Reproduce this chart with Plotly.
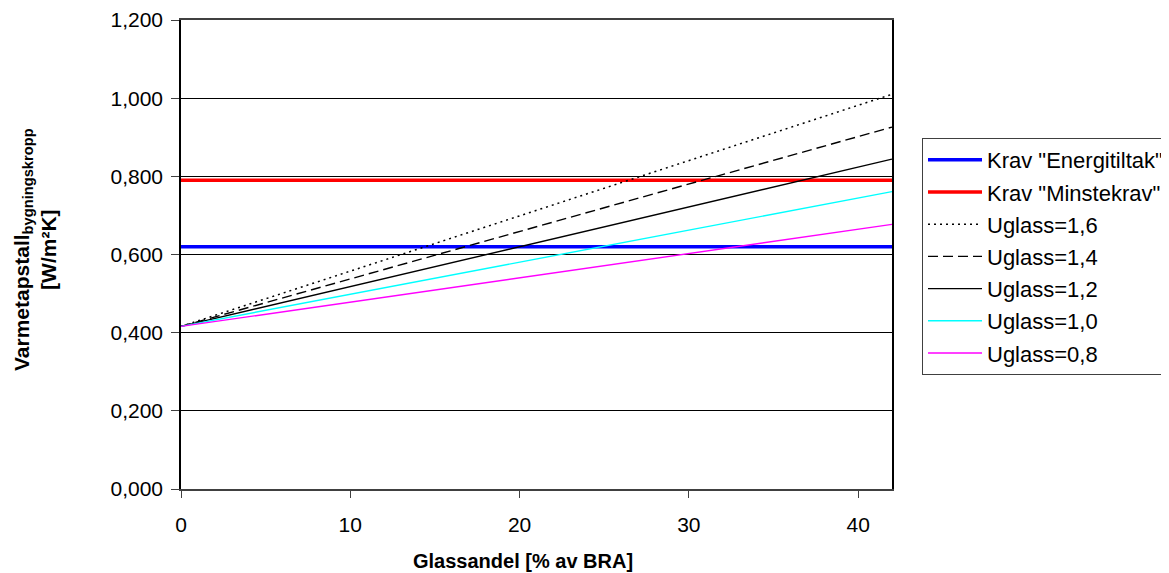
import plotly.graph_objects as go

# x-range endpoints (% glass of BRA)
x_vals = [0, 42]

# requirement levels (W/m2K)
krav_energitiltak = [0.620, 0.620]
krav_minstekrav = [0.790, 0.790]

# heat loss number per glass U-value
u16 = [0.416, 1.010]
u14 = [0.416, 0.926]
u12 = [0.416, 0.844]
u10 = [0.416, 0.761]
u08 = [0.416, 0.677]

y_ticks = [0.0, 0.2, 0.4, 0.6, 0.8, 1.0, 1.2]
y_ticktext = ["0,000", "0,200", "0,400", "0,600", "0,800", "1,000", "1,200"]
x_ticks = [0, 10, 20, 30, 40]

font_family = "Liberation Sans, Arial, sans-serif"

series = [
    ('Krav "Energitiltak"', krav_energitiltak, dict(color="#0000FF", width=3.5)),
    ('Krav "Minstekrav"', krav_minstekrav, dict(color="#FF0000", width=3.5)),
    ("Uglass=1,6", u16, dict(color="#000000", width=1.5, dash="2px,4px")),
    ("Uglass=1,4", u14, dict(color="#000000", width=1.4, dash="10px,5px")),
    ("Uglass=1,2", u12, dict(color="#000000", width=1.4)),
    ("Uglass=1,0", u10, dict(color="#00FFFF", width=1.4)),
    ("Uglass=0,8", u08, dict(color="#FF00FF", width=1.4)),
]

# page has an 8px body margin; figure coords = page coords - 8
W, H = 1200, 575
L, T = 173, 12
PR, PB = 884, 481  # plot right / bottom in figure coords

fig = go.Figure()
for i, (name, ys, line) in enumerate(series):
    fig.add_trace(go.Scatter(x=x_vals, y=ys, mode="lines", name=name,
                             line=line, legendgroup=f"g{i}"))

fig.update_layout(
    width=W, height=H,
    margin=dict(l=L, r=W - PR, t=T, b=H - PB, autoexpand=False),
    paper_bgcolor="white", plot_bgcolor="white",
    font=dict(family=font_family, size=21, color="black"),
    showlegend=True,
    legend=dict(
        x=(914 - L) / (PR - L), y=(PB - 130) / (PB - T),
        xanchor="left", yanchor="top",
        bordercolor="#404040", borderwidth=1,
        font=dict(size=22, family=font_family),
        tracegroupgap=0.6, itemwidth=54,
    ),
    xaxis=dict(
        range=[0, 42], tickvals=x_ticks, ticktext=[str(v) for v in x_ticks],
        showgrid=False, zeroline=False, automargin=False,
        showline=True, linecolor="#404040", linewidth=1.5, mirror=True,
        ticks="outside", ticklen=7, tickcolor="#404040",
        ticklabelstandoff=9,
        tickfont=dict(size=21),
    ),
    yaxis=dict(
        range=[0, 1.2], tickvals=y_ticks, ticktext=y_ticktext,
        showgrid=True, gridcolor="#000000", gridwidth=1, zeroline=False,
        automargin=False,
        showline=True, linecolor="#000000", linewidth=1.5, mirror=True,
        ticks="outside", ticklen=8, tickcolor="#404040",
        ticklabelstandoff=4,
        tickfont=dict(size=21),
    ),
)

fig.add_annotation(
    text="<b>Varmetapstall<sub>bygningskropp</sub><br>[W/m²K]</b>",
    xref="paper", yref="paper", x=(27 - L) / (PR - L), y=(PB - 242) / (PB - T),
    xanchor="center", yanchor="middle", textangle=-90, showarrow=False,
    font=dict(size=21, family=font_family),
)
fig.add_annotation(
    text="<b>Glassandel [% av BRA]</b>",
    xref="paper", yref="paper", x=(515 - L) / (PR - L), y=(PB - 553) / (PB - T),
    xanchor="center", yanchor="middle", showarrow=False,
    font=dict(size=20, family=font_family),
)

fig.write_html("out.html",
               post_script="document.body.style.overflow='hidden';")
